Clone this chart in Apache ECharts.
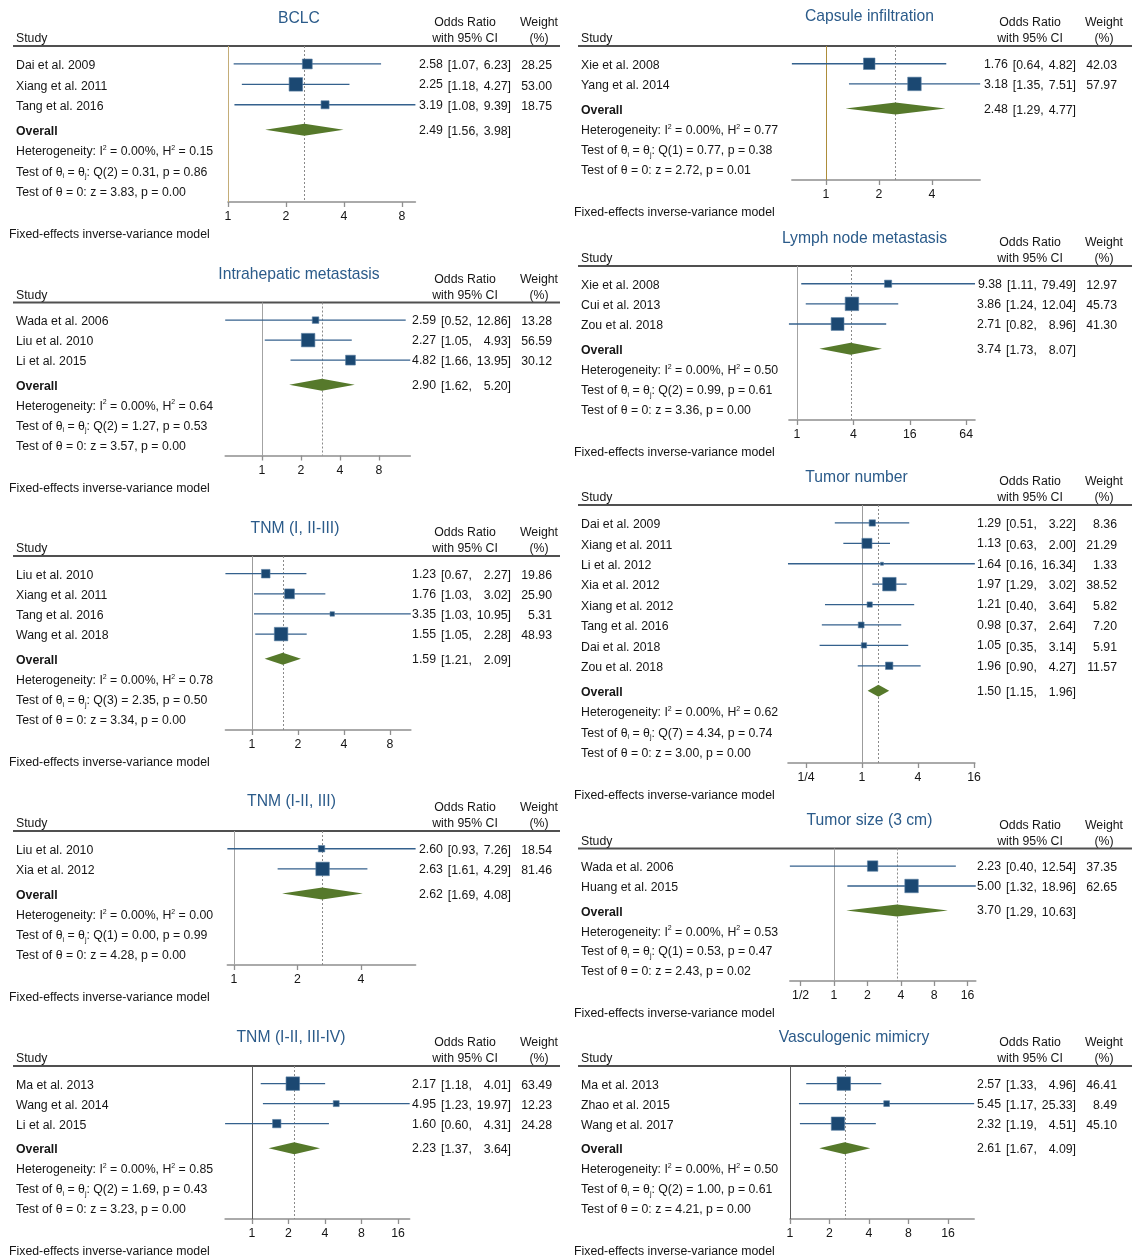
<!DOCTYPE html>
<html>
<head>
<meta charset="utf-8">
<title>Forest plots – clinicopathological features</title>
<script src="https://cdn.jsdelivr.net/npm/echarts@6/dist/echarts.min.js"></script>
<style>
  html, body { margin: 0; padding: 0; background: #ffffff; }
  #chart { width: 1132px; height: 1258px; }
</style>
</head>
<body>
<div id="chart"></div>
<script>
// ---------------- data ----------------
// stats arrays: [I2 %, H2, Q df, Q, p(Q), z, p(z)]

// BCLC
const bclcStudy = ['Dai et al. 2009', 'Xiang et al. 2011', 'Tang et al. 2016'];
const bclcOR = [2.58, 2.25, 3.19];
const bclcLo = [1.07, 1.18, 1.08];
const bclcHi = [6.23, 4.27, 9.39];
const bclcWt = [28.25, 53.00, 18.75];
const bclcPooled = [2.49, 1.56, 3.98];
const bclcStats = ['0.00', '0.15', 2, '0.31', '0.86', '3.83', '0.00'];
const bclcTicks = [1, 2, 4, 8];

// Intrahepatic metastasis
const ihmStudy = ['Wada et al. 2006', 'Liu et al. 2010', 'Li et al. 2015'];
const ihmOR = [2.59, 2.27, 4.82];
const ihmLo = [0.52, 1.05, 1.66];
const ihmHi = [12.86, 4.93, 13.95];
const ihmWt = [13.28, 56.59, 30.12];
const ihmPooled = [2.90, 1.62, 5.20];
const ihmStats = ['0.00', '0.64', 2, '1.27', '0.53', '3.57', '0.00'];
const ihmTicks = [1, 2, 4, 8];

// TNM (I, II-III)
const tnmAStudy = ['Liu et al. 2010', 'Xiang et al. 2011', 'Tang et al. 2016', 'Wang et al. 2018'];
const tnmAOR = [1.23, 1.76, 3.35, 1.55];
const tnmALo = [0.67, 1.03, 1.03, 1.05];
const tnmAHi = [2.27, 3.02, 10.95, 2.28];
const tnmAWt = [19.86, 25.90, 5.31, 48.93];
const tnmAPooled = [1.59, 1.21, 2.09];
const tnmAStats = ['0.00', '0.78', 3, '2.35', '0.50', '3.34', '0.00'];
const tnmATicks = [1, 2, 4, 8];

// TNM (I-II, III)
const tnmBStudy = ['Liu et al. 2010', 'Xia et al. 2012'];
const tnmBOR = [2.60, 2.63];
const tnmBLo = [0.93, 1.61];
const tnmBHi = [7.26, 4.29];
const tnmBWt = [18.54, 81.46];
const tnmBPooled = [2.62, 1.69, 4.08];
const tnmBStats = ['0.00', '0.00', 1, '0.00', '0.99', '4.28', '0.00'];
const tnmBTicks = [1, 2, 4];

// TNM (I-II, III-IV)
const tnmCStudy = ['Ma et al. 2013', 'Wang et al. 2014', 'Li et al. 2015'];
const tnmCOR = [2.17, 4.95, 1.60];
const tnmCLo = [1.18, 1.23, 0.60];
const tnmCHi = [4.01, 19.97, 4.31];
const tnmCWt = [63.49, 12.23, 24.28];
const tnmCPooled = [2.23, 1.37, 3.64];
const tnmCStats = ['0.00', '0.85', 2, '1.69', '0.43', '3.23', '0.00'];
const tnmCTicks = [1, 2, 4, 8, 16];

// Capsule infiltration
const capStudy = ['Xie et al. 2008', 'Yang et al. 2014'];
const capOR = [1.76, 3.18];
const capLo = [0.64, 1.35];
const capHi = [4.82, 7.51];
const capWt = [42.03, 57.97];
const capPooled = [2.48, 1.29, 4.77];
const capStats = ['0.00', '0.77', 1, '0.77', '0.38', '2.72', '0.01'];
const capTicks = [1, 2, 4];

// Lymph node metastasis
const lnmStudy = ['Xie et al. 2008', 'Cui et al. 2013', 'Zou et al. 2018'];
const lnmOR = [9.38, 3.86, 2.71];
const lnmLo = [1.11, 1.24, 0.82];
const lnmHi = [79.49, 12.04, 8.96];
const lnmWt = [12.97, 45.73, 41.30];
const lnmPooled = [3.74, 1.73, 8.07];
const lnmStats = ['0.00', '0.50', 2, '0.99', '0.61', '3.36', '0.00'];
const lnmTicks = [1, 4, 16, 64];

// Tumor number
const tnumStudy = ['Dai et al. 2009', 'Xiang et al. 2011', 'Li et al. 2012', 'Xia et al. 2012',
                   'Xiang et al. 2012', 'Tang et al. 2016', 'Dai et al. 2018', 'Zou et al. 2018'];
const tnumOR = [1.29, 1.13, 1.64, 1.97, 1.21, 0.98, 1.05, 1.96];
const tnumLo = [0.51, 0.63, 0.16, 1.29, 0.40, 0.37, 0.35, 0.90];
const tnumHi = [3.22, 2.00, 16.34, 3.02, 3.64, 2.64, 3.14, 4.27];
const tnumWt = [8.36, 21.29, 1.33, 38.52, 5.82, 7.20, 5.91, 11.57];
const tnumPooled = [1.50, 1.15, 1.96];
const tnumStats = ['0.00', '0.62', 7, '4.34', '0.74', '3.00', '0.00'];
const tnumTicks = [0.25, 1, 4, 16];

// Tumor size (3 cm)
const tsizeStudy = ['Wada et al. 2006', 'Huang et al. 2015'];
const tsizeOR = [2.23, 5.00];
const tsizeLo = [0.40, 1.32];
const tsizeHi = [12.54, 18.96];
const tsizeWt = [37.35, 62.65];
const tsizePooled = [3.70, 1.29, 10.63];
const tsizeStats = ['0.00', '0.53', 1, '0.53', '0.47', '2.43', '0.02'];
const tsizeTicks = [0.5, 1, 2, 4, 8, 16];

// Vasculogenic mimicry
const vmStudy = ['Ma et al. 2013', 'Zhao et al. 2015', 'Wang et al. 2017'];
const vmOR = [2.57, 5.45, 2.32];
const vmLo = [1.33, 1.17, 1.19];
const vmHi = [4.96, 25.33, 4.51];
const vmWt = [46.41, 8.49, 45.10];
const vmPooled = [2.61, 1.67, 4.09];
const vmStats = ['0.00', '0.50', 2, '1.00', '0.61', '4.21', '0.00'];
const vmTicks = [1, 2, 4, 8, 16];

const panels = [
  { title: 'BCLC', study: bclcStudy, or: bclcOR, lo: bclcLo, hi: bclcHi, wt: bclcWt, pooled: bclcPooled, stats: bclcStats, ticks: bclcTicks },
  { title: 'Intrahepatic metastasis', study: ihmStudy, or: ihmOR, lo: ihmLo, hi: ihmHi, wt: ihmWt, pooled: ihmPooled, stats: ihmStats, ticks: ihmTicks },
  { title: 'TNM (I, II-III)', study: tnmAStudy, or: tnmAOR, lo: tnmALo, hi: tnmAHi, wt: tnmAWt, pooled: tnmAPooled, stats: tnmAStats, ticks: tnmATicks },
  { title: 'TNM (I-II, III)', study: tnmBStudy, or: tnmBOR, lo: tnmBLo, hi: tnmBHi, wt: tnmBWt, pooled: tnmBPooled, stats: tnmBStats, ticks: tnmBTicks },
  { title: 'TNM (I-II, III-IV)', study: tnmCStudy, or: tnmCOR, lo: tnmCLo, hi: tnmCHi, wt: tnmCWt, pooled: tnmCPooled, stats: tnmCStats, ticks: tnmCTicks },
  { title: 'Capsule infiltration', study: capStudy, or: capOR, lo: capLo, hi: capHi, wt: capWt, pooled: capPooled, stats: capStats, ticks: capTicks },
  { title: 'Lymph node metastasis', study: lnmStudy, or: lnmOR, lo: lnmLo, hi: lnmHi, wt: lnmWt, pooled: lnmPooled, stats: lnmStats, ticks: lnmTicks },
  { title: 'Tumor number', study: tnumStudy, or: tnumOR, lo: tnumLo, hi: tnumHi, wt: tnumWt, pooled: tnumPooled, stats: tnumStats, ticks: tnumTicks },
  { title: 'Tumor size (3 cm)', study: tsizeStudy, or: tsizeOR, lo: tsizeLo, hi: tsizeHi, wt: tsizeWt, pooled: tsizePooled, stats: tsizeStats, ticks: tsizeTicks },
  { title: 'Vasculogenic mimicry', study: vmStudy, or: vmOR, lo: vmLo, hi: vmHi, wt: vmWt, pooled: vmPooled, stats: vmStats, ticks: vmTicks }
];

// ---------------- layout & styles ----------------
// x1: pixel of OR = 1, ppd: pixels per doubling of the OR scale
const layout = [
  { col: 0, titleX: 299,   titleY: 17,   headerY: 46,    axisY: 202,   x1: 228, ppd: 58,   ref: '#c4ad78' },
  { col: 0, titleX: 299,   titleY: 273,  headerY: 302.5, axisY: 455.5, x1: 262, ppd: 39,   ref: '#a3a3a3' },
  { col: 0, titleX: 295,   titleY: 527,  headerY: 556,   axisY: 730,   x1: 252, ppd: 46,   ref: '#9c9c9c' },
  { col: 0, titleX: 291.5, titleY: 800,  headerY: 831,   axisY: 965,   x1: 234, ppd: 63.5, ref: '#a3a3a3' },
  { col: 0, titleX: 291,   titleY: 1036, headerY: 1066,  axisY: 1219,  x1: 252, ppd: 36.5, ref: '#5a5a5a' },
  { col: 1, titleX: 869.5, titleY: 15,   headerY: 46,    axisY: 180,   x1: 826, ppd: 53,   ref: '#ad8d3a' },
  { col: 1, titleX: 864.5, titleY: 237,  headerY: 266,   axisY: 420,   x1: 797, ppd: 28.2, ref: '#a3a3a3' },
  { col: 1, titleX: 856.5, titleY: 476,  headerY: 505,   axisY: 763,   x1: 862, ppd: 28,   ref: '#9c9c9c' },
  { col: 1, titleX: 869.5, titleY: 819,  headerY: 848.5, axisY: 981,   x1: 834, ppd: 33.4, ref: '#a3a3a3' },
  { col: 1, titleX: 854,   titleY: 1036, headerY: 1066,  axisY: 1219,  x1: 790, ppd: 39.5, ref: '#5a5a5a' }
];
const COLS = [
  { dx: 0,   ruleX0: 13,  ruleX1: 560 },
  { dx: 565, ruleX0: 578, ruleX1: 1132 }
];
const BASE = { studyX: 16, orEnd: 511, wtEnd: 552, orHeadX: 465, wtHeadX: 539, footX: 9 };

const FONT = '"Liberation Sans", Arial, Helvetica, sans-serif';
const FS = 12.3;
const TEXT = '#151515';
const TITLE_C = '#2b5b8a';
const SQUARE_C = '#1b4872';
const CI_C = '#34618d';
const DIAMOND_C = '#56792b';
const AXIS_C = '#8f8f8f';
const RULE_C = '#505050';
const MAX_SIDE = 13.5;      // side of the square for the heaviest study
const DIAMOND_H = 6;        // half height of pooled diamond
const TEXT_DY = 1.8;        // optical centring of text on its row

// row positions in row units below the header rule
const FIRST = 0.88, GAP_OVERALL = 1.225, TAIL = 0.54;

// text measurement for the CI column
const mctx = document.createElement('canvas').getContext('2d');
mctx.font = FS + 'px ' + FONT;
const tw = s => mctx.measureText(s).width;
const SPACE = tw(' ');
const GAP = SPACE + 1.6;

const f2 = v => v.toFixed(2);
const log2 = Math.log2;
const tickLabel = v => {
  const r = Math.pow(2, v);
  return r < 1 ? '1/' + Math.round(1 / r) : String(Math.round(r));
};

const richStyles = {
  sup: { fontSize: 7, lineHeight: 9, verticalAlign: 'top', fontFamily: FONT, fill: TEXT },
  sub: { fontSize: 7, lineHeight: 9, verticalAlign: 'bottom', fontFamily: FONT, fill: TEXT }
};

function txt(x, y, text, opts) {
  opts = opts || {};
  return {
    type: 'text', x: x, y: y + TEXT_DY, silent: true,
    style: Object.assign({
      text: text, fill: TEXT, fontSize: FS, fontFamily: FONT,
      align: 'left', verticalAlign: 'middle'
    }, opts)
  };
}

const option = {
  animation: false,
  backgroundColor: '#ffffff',
  grid: [], xAxis: [], yAxis: [], series: [], graphic: []
};

panels.forEach((P, k) => {
  const L = layout[k];
  const C = COLS[L.col];
  const dx = C.dx;
  const n = P.study.length;
  const rowOverall = FIRST + (n - 1) + GAP_OVERALL;
  const U = rowOverall + 3 + TAIL;
  const xmin = log2(Math.min(1, P.pooled[1], ...P.lo));
  const xmax = log2(Math.max(P.pooled[2], ...P.hi));
  const wmax = Math.max(...P.wt);

  option.grid.push({
    left: L.x1 + xmin * L.ppd, width: (xmax - xmin) * L.ppd,
    top: L.headerY, height: L.axisY - L.headerY,
    containLabel: false, outerBoundsMode: 'none'
  });
  const tickVals = P.ticks.map(log2);
  option.xAxis.push({
    type: 'value', gridIndex: k, min: xmin, max: xmax,
    axisLine: { show: true, onZero: false, lineStyle: { color: AXIS_C, width: 1.6 } },
    axisTick: { show: true, customValues: tickVals, length: 5, lineStyle: { color: AXIS_C, width: 1.3 } },
    axisLabel: { show: true, customValues: tickVals, formatter: tickLabel, margin: 9,
                 fontSize: FS, color: TEXT, fontFamily: FONT },
    splitLine: { show: false }
  });
  option.yAxis.push({
    type: 'value', gridIndex: k, min: 0, max: U, inverse: true, show: false
  });

  // no-effect line at OR = 1 and dotted line at the pooled estimate
  option.series.push({
    type: 'custom', xAxisIndex: k, yAxisIndex: k, clip: false, silent: true, z: 1,
    data: [[0, 0], [log2(P.pooled[0]), 0]],
    renderItem: (params, api) => {
      const x = api.value(0);
      const a = api.coord([x, 0]);
      const b = api.coord([x, U]);
      const dotted = params.dataIndex === 1;
      const px = Math.round(a[0]) + 0.5;
      return {
        type: 'line',
        shape: { x1: px, y1: a[1], x2: px, y2: b[1] },
        style: { stroke: dotted ? '#8a8a8a' : L.ref, lineWidth: 1, lineDash: dotted ? [2, 2] : null }
      };
    }
  });

  // CI column geometry
  const orEnd = BASE.orEnd + dx;
  const hiMaxW = Math.max(...P.hi.concat([P.pooled[2]]).map(v => tw(f2(v))));
  const bracketRight = orEnd - tw(']') - hiMaxW - GAP;

  function ciTexts(y, est, lo, hi) {
    const loStr = '[' + f2(lo) + ',';
    const estRight = bracketRight - tw(loStr) - GAP;
    return [
      txt(estRight, y - 1.3, f2(est), { align: 'right' }),
      txt(bracketRight, y, loStr, { align: 'right' }),
      txt(orEnd, y, f2(hi) + ']', { align: 'right' })
    ];
  }

  // rows: studies, pooled estimate, heterogeneity statistics
  const rows = [];
  for (let i = 0; i < n; i++) rows.push([log2(P.or[i]), FIRST + i, log2(P.lo[i]), log2(P.hi[i])]);
  rows.push([log2(P.pooled[0]), rowOverall, log2(P.pooled[1]), log2(P.pooled[2])]);
  for (let j = 1; j <= 3; j++) rows.push([xmin, rowOverall + j, xmin, xmin]);

  const st = P.stats;
  const statText = [
    'Heterogeneity: I{sup|2} = ' + st[0] + '%, H{sup|2} = ' + st[1],
    'Test of θ{sub|i} = θ{sub|j}: Q(' + st[2] + ') = ' + st[3] + ', p = ' + st[4],
    'Test of θ = 0: z = ' + st[5] + ', p = ' + st[6]
  ];
  const textX = BASE.studyX + dx;

  option.series.push({
    type: 'custom', xAxisIndex: k, yAxisIndex: k, clip: false, silent: true, z: 3,
    encode: { x: 0, y: 1 },
    data: rows,
    renderItem: (params, api) => {
      const i = params.dataIndex;
      const row = api.value(1);
      const c = api.coord([api.value(0), row]);
      const cl = api.coord([api.value(2), row]);
      const ch = api.coord([api.value(3), row]);
      const y = c[1];
      if (i < n) {
        const side = Math.max(3, MAX_SIDE * Math.sqrt(P.wt[i] / wmax));
        return {
          type: 'group',
          children: [
            { type: 'line', shape: { x1: cl[0], y1: y, x2: ch[0], y2: y },
              style: { stroke: CI_C, lineWidth: 1.3 } },
            { type: 'rect', shape: { x: c[0] - side / 2, y: y - side / 2, width: side, height: side },
              style: { fill: SQUARE_C, stroke: '#5b7fa3', lineWidth: 0.6 } },
            txt(textX, y, P.study[i]),
            ...ciTexts(y, P.or[i], P.lo[i], P.hi[i]),
            txt(BASE.wtEnd + dx, y, f2(P.wt[i]), { align: 'right' })
          ]
        };
      }
      if (i === n) {
        return {
          type: 'group',
          children: [
            { type: 'polygon',
              shape: { points: [[cl[0], y], [c[0], y - DIAMOND_H], [ch[0], y], [c[0], y + DIAMOND_H]] },
              style: { fill: DIAMOND_C } },
            txt(textX, y, 'Overall', { fontWeight: 'bold' }),
            ...ciTexts(y, P.pooled[0], P.pooled[1], P.pooled[2])
          ]
        };
      }
      return txt(textX, y, statText[i - n - 1], { rich: richStyles, lineHeight: 15 });
    }
  });

  // titles, column headers, rule and footnote
  const G = option.graphic;
  G.push(txt(L.titleX, L.titleY, P.title, { align: 'center', fontSize: 15.7, fill: TITLE_C }));
  G.push(txt(BASE.studyX + dx, L.headerY - 9, 'Study'));
  G.push(txt(BASE.orHeadX + dx, L.headerY - 25, 'Odds Ratio', { align: 'center' }));
  G.push(txt(BASE.orHeadX + dx, L.headerY - 9, 'with 95% CI', { align: 'center' }));
  G.push(txt(BASE.wtHeadX + dx, L.headerY - 25, 'Weight', { align: 'center' }));
  G.push(txt(BASE.wtHeadX + dx, L.headerY - 9, '(%)', { align: 'center' }));
  G.push({ type: 'line', silent: true,
           shape: { x1: C.ruleX0, y1: L.headerY, x2: C.ruleX1, y2: L.headerY },
           style: { stroke: RULE_C, lineWidth: 1.8 } });
  G.push(txt(BASE.footX + dx, L.axisY + 31, 'Fixed-effects inverse-variance model'));
});

const chart = echarts.init(document.getElementById('chart'), null, { renderer: 'canvas', width: 1132, height: 1258 });
chart.setOption(option);
</script>
</body>
</html>
